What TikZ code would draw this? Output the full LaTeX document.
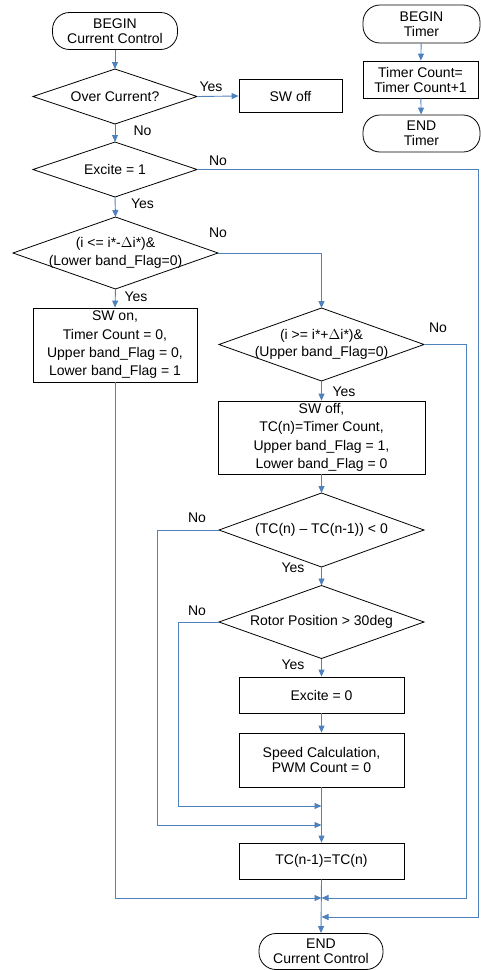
\documentclass[tikz,border=0pt]{standalone}
\usepackage{fontspec}
\setmainfont{Liberation Sans}
\usetikzlibrary{arrows.meta}
\definecolor{conn}{RGB}{79,129,189}
\begin{document}
\begin{tikzpicture}[x=1pt,y=-1pt,
  font=\fontsize{14}{15}\selectfont,
  box/.style={draw, line width=0.8pt, align=center, inner sep=0pt},
  term/.style={box, rounded corners=17pt},
  dec/.style={align=center, inner sep=0pt, outer sep=0pt},
  ln/.style={draw=conn, line width=0.9pt},
  arr/.style={ln, -{Triangle[length=7pt,width=6pt]}},
  lab/.style={inner sep=0pt}]
\useasboundingbox (0,0) rectangle (480,970);
% main column
\node[term, minimum width=125pt, minimum height=37pt] (b1) at (115,31) {BEGIN\\Current Control};
\node[dec, minimum width=164pt, minimum height=55pt] (d1) at (115,96.5) {Over Current?};
\node[box, minimum width=103pt, minimum height=33pt] (swoff) at (290.5,96) {SW off};
\node[dec, minimum width=164pt, minimum height=55pt] (d2) at (115,169.5) {Excite = 1};
\node[dec, minimum width=205pt, minimum height=72pt, font=\fontsize{14}{18}\selectfont] (d3) at (115.5,253) {(i <= i*-$\Delta$i*)\&\\(Lower band\_Flag=0)};
\node[box, minimum width=164pt, minimum height=74pt, font=\fontsize{14}{18.3}\selectfont] (swon) at (115,345) {SW on,\\Timer Count = 0,\\Upper band\_Flag = 0,\\Lower band\_Flag = 1};
\node[dec, minimum width=205pt, minimum height=73pt, font=\fontsize{14}{16.5}\selectfont] (d4) at (321.5,344.5) {(i >= i*+$\Delta$i*)\&\\(Upper band\_Flag=0)};
\node[box, minimum width=207pt, minimum height=73pt, font=\fontsize{14}{18.3}\selectfont] (swoff2) at (321.5,437.5) {SW off,\\TC(n)=Timer Count,\\Upper band\_Flag = 1,\\Lower band\_Flag = 0};
\node[dec, minimum width=205pt, minimum height=74pt] (d5) at (321.5,530) {(TC(n) -- TC(n-1)) < 0};
\node[dec, minimum width=205pt, minimum height=73pt] (d6) at (321.5,622) {Rotor Position > 30deg};
\node[box, minimum width=165pt, minimum height=36pt] (ex0) at (321.5,695) {Excite = 0};
\node[box, minimum width=165pt, minimum height=54pt] (speed) at (321.5,760) {Speed Calculation,\\PWM Count = 0};
\node[box, minimum width=165pt, minimum height=36pt] (tc) at (321.5,861) {TC(n-1)=TC(n)};
\node[term, minimum width=124pt, minimum height=36pt] (e1) at (321,951.5) {END\\Current Control};
% timer
\node[term, minimum width=117pt, minimum height=38pt] (t1) at (421.5,24) {BEGIN\\Timer};
\node[box, minimum width=115pt, minimum height=37pt] (tbox) at (420.5,79.5) {Timer Count=\\Timer Count+1};
\node[term, minimum width=117pt, minimum height=37pt] (t2) at (421.5,133.5) {END\\Timer};
% diamonds outlines
\foreach \n in {d1,d2,d3,d4,d5,d6}
  \draw[line width=0.8pt] (\n.north)--(\n.east)--(\n.south)--(\n.west)--cycle;
% junction coordinates
\coordinate (j1) at (321.5,898);
\coordinate (j2) at (321.5,917);
\coordinate (j3) at (321.5,806);
\coordinate (j4) at (321.5,825);
% connectors
\draw[arr] (b1) -- (d1.north);
\draw[arr] (d1.east) -- (swoff.west);
\draw[arr] (d1.south) -- (d2.north);
\draw[arr] (d2.south) -- (d3.north);
\draw[arr] (d3.south) -- (swon.north);
\draw[arr] (d3.east) -| (d4.north);
\draw[arr] (d4.south) -- (swoff2.north);
\draw[arr] (swoff2.south) -- (d5.north);
\draw[arr] (d5.south) -- (d6.north);
\draw[arr] (d6.south) -- (ex0.north);
\draw[arr] (ex0.south) -- (speed.north);
\draw[arr] (speed.south) -- (tc.north);
\draw[arr] (tc.south) -- (e1.north);
\draw[arr] (swon.south) |- (j1);
\draw[arr] (d4.east) -- (466,344.5) |- (j1);
\draw[arr] (d2.east) -- (478,169.5) |- (j2);
\draw[arr] (d5.west) -- (157,530) |- (j4);
\draw[arr] (d6.west) -- (178,622) |- (j3);
\draw[arr] (t1) -- (tbox);
\draw[arr] (tbox) -- (t2);
% labels
\node[lab] (l1) at (211,87) {Yes};
\node[lab] (l2) at (142.5,131) {No};
\node[lab] (l3) at (218,161) {No};
\node[lab] (l4) at (142.5,204) {Yes};
\node[lab] (l5) at (218,233) {No};
\node[lab] (l6) at (136,297) {Yes};
\node[lab] (l7) at (438,328) {No};
\node[lab] (l8) at (344,392) {Yes};
\node[lab] (l9) at (197,518) {No};
\node[lab] (l10) at (293,568) {Yes};
\node[lab] (l11) at (197,611) {No};
\node[lab] (l12) at (293,665) {Yes};
\end{tikzpicture}
\end{document}
